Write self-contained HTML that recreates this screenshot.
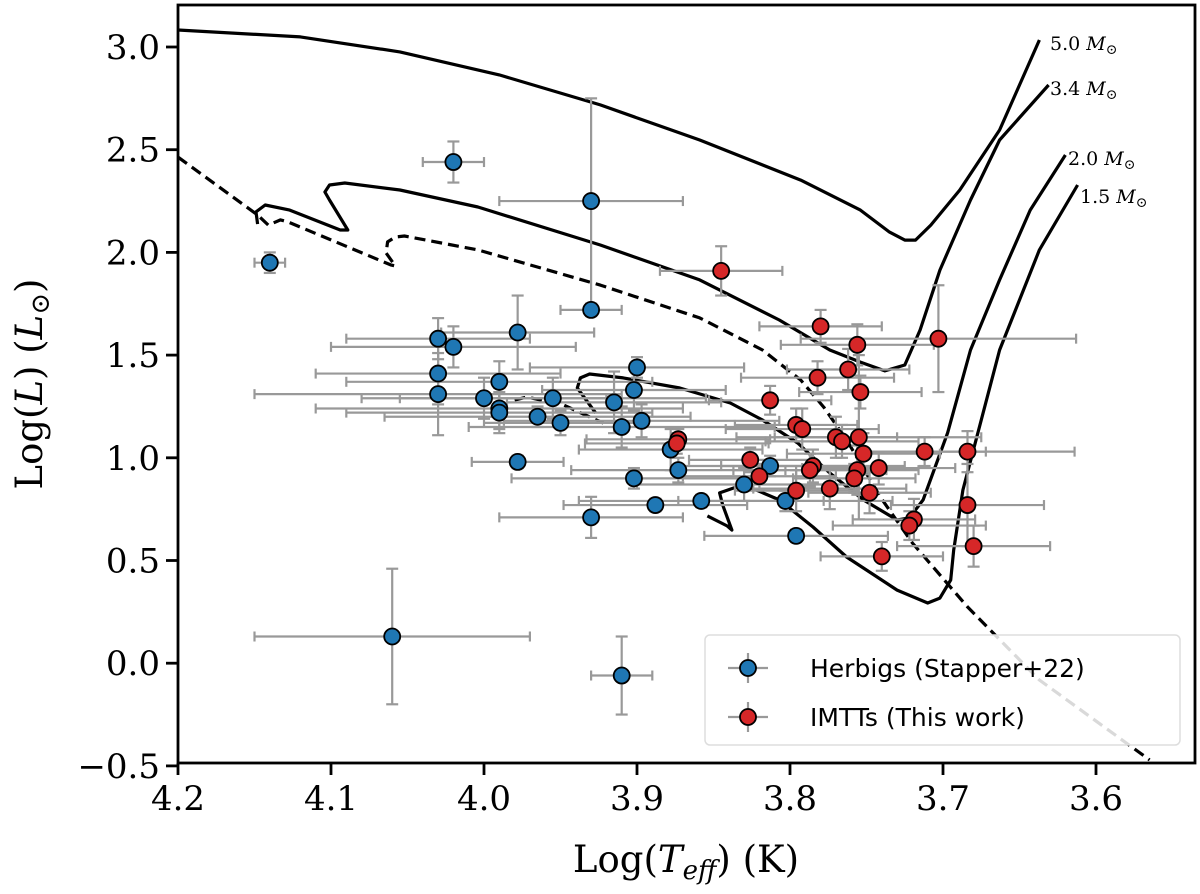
<!DOCTYPE html>
<html><head><meta charset="utf-8"><style>
body{margin:0;background:#fff;}
svg{display:block;font-family:"DejaVu Serif","Liberation Serif",serif;}
</style></head><body>
<svg id="chart" width="1200" height="894" viewBox="0 0 1200 894"></svg>
<script>
const blueT=[4.14,4.02,3.93,4.03,4.02,4.03,4.03,3.978,3.93,3.90,3.99,4.0,3.99,3.99,3.955,3.965,3.95,3.915,3.902,3.91,3.897,3.978,3.902,3.878,3.873,3.93,3.888,3.858,3.83,3.813,3.803,3.796,4.06,3.91];
const blueL=[1.95,2.44,2.25,1.58,1.54,1.41,1.31,1.61,1.72,1.44,1.37,1.29,1.24,1.22,1.29,1.20,1.17,1.27,1.33,1.15,1.18,0.98,0.90,1.04,0.94,0.71,0.77,0.79,0.87,0.96,0.79,0.62,0.13,-0.06];
const blueTe=[.01,.02,.06,.06,.08,.08,.12,.05,.02,.07,.1,.08,.12,.1,.1,.1,.05,.07,.06,.1,.09,.03,.08,.06,.07,.06,.06,.08,.07,.06,.07,.06,.09,.02];
const blueLe=[.05,.1,.5,.1,.1,.15,.2,.18,.03,.05,.1,.1,.1,.1,.1,.05,.06,.15,.1,.1,.08,.03,.05,.1,.06,.1,.03,.03,.08,.05,.05,.03,.33,.19];
const redT=[3.845,3.78,3.703,3.756,3.762,3.754,3.782,3.813,3.873,3.874,3.796,3.792,3.77,3.766,3.755,3.752,3.712,3.684,3.826,3.82,3.785,3.787,3.756,3.758,3.742,3.748,3.774,3.796,3.719,3.722,3.684,3.68,3.74];
const redL=[1.91,1.64,1.58,1.55,1.43,1.32,1.39,1.28,1.09,1.07,1.16,1.14,1.10,1.08,1.10,1.02,1.03,1.03,0.99,0.91,0.96,0.94,0.94,0.90,0.95,0.83,0.85,0.84,0.70,0.67,0.77,0.57,0.52];
const redTe=[.04,.04,.09,.05,.04,.04,.05,.04,.06,.06,.04,.05,.04,.05,.08,.05,.04,.07,.04,.05,.06,.05,.04,.04,.05,.04,.05,.04,.04,.05,.05,.05,.04];
const redLe=[.12,.08,.26,.1,.1,.08,.08,.07,.05,.05,.08,.1,.1,.08,.4,.1,.07,.1,.06,.06,.08,.08,.12,.07,.08,.1,.1,.1,.1,.07,.2,.1,.07];
const trk50T=[4.2,4.12,4.055,3.99,3.924,3.859,3.793,3.754,3.735,3.725,3.718,3.708,3.689,3.663,3.637];
const trk50L=[3.083,3.049,2.976,2.864,2.718,2.547,2.352,2.206,2.099,2.06,2.06,2.133,2.304,2.596,3.034];
const trk34T=[4.148,4.149,4.143,4.127,4.094,4.089,4.101,4.104,4.101,4.091,4.055,4.004,3.924,3.859,3.807,3.774,3.754,3.738,3.725,3.715,3.702,3.682,3.663,3.631];
const trk34L=[2.138,2.197,2.231,2.206,2.109,2.109,2.255,2.294,2.328,2.338,2.304,2.221,2.036,1.866,1.671,1.525,1.466,1.423,1.452,1.622,1.914,2.255,2.547,2.815];
const trk20T=[3.927,3.939,3.937,3.931,3.909,3.872,3.839,3.818,3.795,3.774,3.752,3.730,3.722,3.713,3.697,3.682,3.663,3.643,3.620];
const trk20L=[1.218,1.340,1.389,1.408,1.389,1.340,1.267,1.184,1.072,0.926,0.795,0.697,0.707,0.795,1.121,1.525,1.866,2.206,2.474];
const trk15T=[3.854,3.841,3.838,3.844,3.846,3.835,3.822,3.807,3.785,3.763,3.730,3.710,3.702,3.695,3.693,3.687,3.663,3.637,3.612];
const trk15L=[0.717,0.668,0.648,0.770,0.829,0.858,0.843,0.795,0.663,0.517,0.356,0.293,0.317,0.405,0.551,0.843,1.525,2.012,2.328];
const zamsT=[4.2,4.148,4.141,4.133,4.128,4.061,4.058,4.064,4.063,4.058,4.052,4.004,3.924,3.859,3.818,3.793,3.778,3.763,3.741,3.720,3.684,3.637,3.565];
const zamsL=[2.464,2.182,2.133,2.158,2.148,1.939,1.934,1.997,2.051,2.075,2.080,2.012,1.841,1.681,1.525,1.379,1.247,1.087,0.809,0.585,0.274,-0.082,-0.471];
const pmsT=[3.980,3.972,3.948,3.922];
const pmsL=[1.281,1.296,1.257,1.169];
const xTicks=[4.2,4.1,4.0,3.9,3.8,3.7,3.6];
const yTicks=[3.0,2.5,2.0,1.5,1.0,0.5,0.0,-0.5];

const L=178,R=1195,T=5,B=763;
const X=t=>L+(4.2-t)*1530;
const Y=l=>47+(3.0-l)*205.4;
const svg=document.getElementById('chart');
const NS='http://www.w3.org/2000/svg';
function mk(tag,at,parent){const e=document.createElementNS(NS,tag);for(const k in at)e.setAttribute(k,at[k]);(parent||svg).appendChild(e);return e;}

const clip=mk('clipPath',{id:'pc'});mk('rect',{x:L,y:T,width:R-L,height:B-T},clip);
const plot=mk('g',{'clip-path':'url(#pc)'});



function line(ts,ls,dash,name){
  const d=ts.map((t,i)=>(i?'L':'M')+X(t).toFixed(1)+','+Y(ls[i]).toFixed(1)).join('');
  const p=mk('path',{d:d,fill:'none',stroke:'#000','stroke-width':3.2,'stroke-dasharray':dash||'none','stroke-linejoin':'round'},plot);
  
  
}
line(trk50T,trk50L,null,'track-5.0-msun');
line(trk34T,trk34L,null,'track-3.4-msun');
line(trk20T,trk20L,null,'track-2.0-msun');
line(trk15T,trk15L,null,'track-1.5-msun');
line(zamsT,zamsL,'11,6','zams-dashed-line');
line(pmsT,pmsL,'11,6','pms-dashed-segment');

function errs(ts,ls,te,le,name){
  const g=mk('g',{stroke:'#999','stroke-width':2.2},plot);
  
  
  ts.forEach((t,i)=>{
    const x=X(t),y=Y(ls[i]),x1=X(t+te[i]),x2=X(t-te[i]),y1=Y(ls[i]+le[i]),y2=Y(ls[i]-le[i]);
    mk('line',{x1:x1,x2:x2,y1:y,y2:y},g);
    mk('line',{x1:x,x2:x,y1:y1,y2:y2},g);
    [x1,x2].forEach(c=>mk('line',{x1:c,x2:c,y1:y-5,y2:y+5},g));
    [y1,y2].forEach(c=>mk('line',{x1:x-6,x2:x+6,y1:c,y2:c},g));
  });
}
function pts(ts,ls,col,name){
  const g=mk('g',{},plot);
  
  
  ts.forEach((t,i)=>{
    const c=mk('circle',{cx:X(t),cy:Y(ls[i]),r:8,fill:col,stroke:'#000','stroke-width':1.8},g);
    
    
  });
}
errs(blueT,blueL,blueTe,blueLe,'herbig-errorbars');
errs(redT,redL,redTe,redLe,'imtt-errorbars');
pts(blueT,blueL,'#1f77b4','herbig');
pts(redT,redL,'#d62728','imtt');

const fr=mk('rect',{x:L,y:T,width:R-L,height:B-T,fill:'none',stroke:'#000','stroke-width':2.8});


xTicks.forEach(t=>{
  const x=X(t);
  mk('line',{x1:x,x2:x,y1:B,y2:B+12,stroke:'#000','stroke-width':2.8});
  const tx=mk('text',{x:x,y:B+47,'text-anchor':'middle','font-size':34});
  tx.textContent=t.toFixed(1);
  
  
});
yTicks.forEach(l=>{
  const y=Y(l);
  mk('line',{x1:L-12,x2:L,y1:y,y2:y,stroke:'#000','stroke-width':2.8});
  const tx=mk('text',{x:L-18,y:y+12,'text-anchor':'end','font-size':34});
  tx.textContent=(l<0?'\u2212':'')+Math.abs(l).toFixed(1);
  
  
});
</script>
<svg width="1200" height="894" style="position:absolute;left:0;top:0;font-family:'DejaVu Serif','Liberation Serif',serif">
  <text x="686" y="872" text-anchor="middle" font-size="37">Log(<tspan font-style="italic">T</tspan><tspan font-style="italic" font-size="26" dy="7">eff</tspan><tspan dy="-7">) (K)</tspan></text>
  <text transform="translate(42,384) rotate(-90)" text-anchor="middle" font-size="37">Log(<tspan font-style="italic">L</tspan>) (<tspan font-style="italic">L</tspan><tspan font-size="26" dy="7">⊙</tspan><tspan dy="-7">)</tspan></text>
  <text x="1050" y="50" font-size="19">5.0 <tspan font-style="italic">M</tspan><tspan font-size="14" dy="4">⊙</tspan></text>
  <text x="1050" y="95" font-size="19">3.4 <tspan font-style="italic">M</tspan><tspan font-size="14" dy="4">⊙</tspan></text>
  <text x="1068" y="165" font-size="19">2.0 <tspan font-style="italic">M</tspan><tspan font-size="14" dy="4">⊙</tspan></text>
  <text x="1080" y="203" font-size="19">1.5 <tspan font-style="italic">M</tspan><tspan font-size="14" dy="4">⊙</tspan></text>
  <g font-family="'DejaVu Sans','Liberation Sans',sans-serif">
    <rect x="705" y="635" width="475" height="110" rx="5" fill="#fff" fill-opacity="0.85" stroke="#ddd" stroke-width="1.5"/>
    <g>
      <line x1="728" x2="768" y1="668" y2="668" stroke="#999" stroke-width="2.2"/>
      <line x1="748" x2="748" y1="653" y2="683" stroke="#999" stroke-width="2.2"/>
      <circle cx="748" cy="668" r="8" fill="#1f77b4" stroke="#000" stroke-width="1.8"/>
      <text x="810" y="677" font-size="25">Herbigs (Stapper+22)</text>
    </g>
    <g>
      <line x1="728" x2="768" y1="717" y2="717" stroke="#999" stroke-width="2.2"/>
      <line x1="748" x2="748" y1="702" y2="732" stroke="#999" stroke-width="2.2"/>
      <circle cx="748" cy="717" r="8" fill="#d62728" stroke="#000" stroke-width="1.8"/>
      <text x="810" y="726" font-size="25">IMTTs (This work)</text>
    </g>
  </g>
</svg>
</body></html>
